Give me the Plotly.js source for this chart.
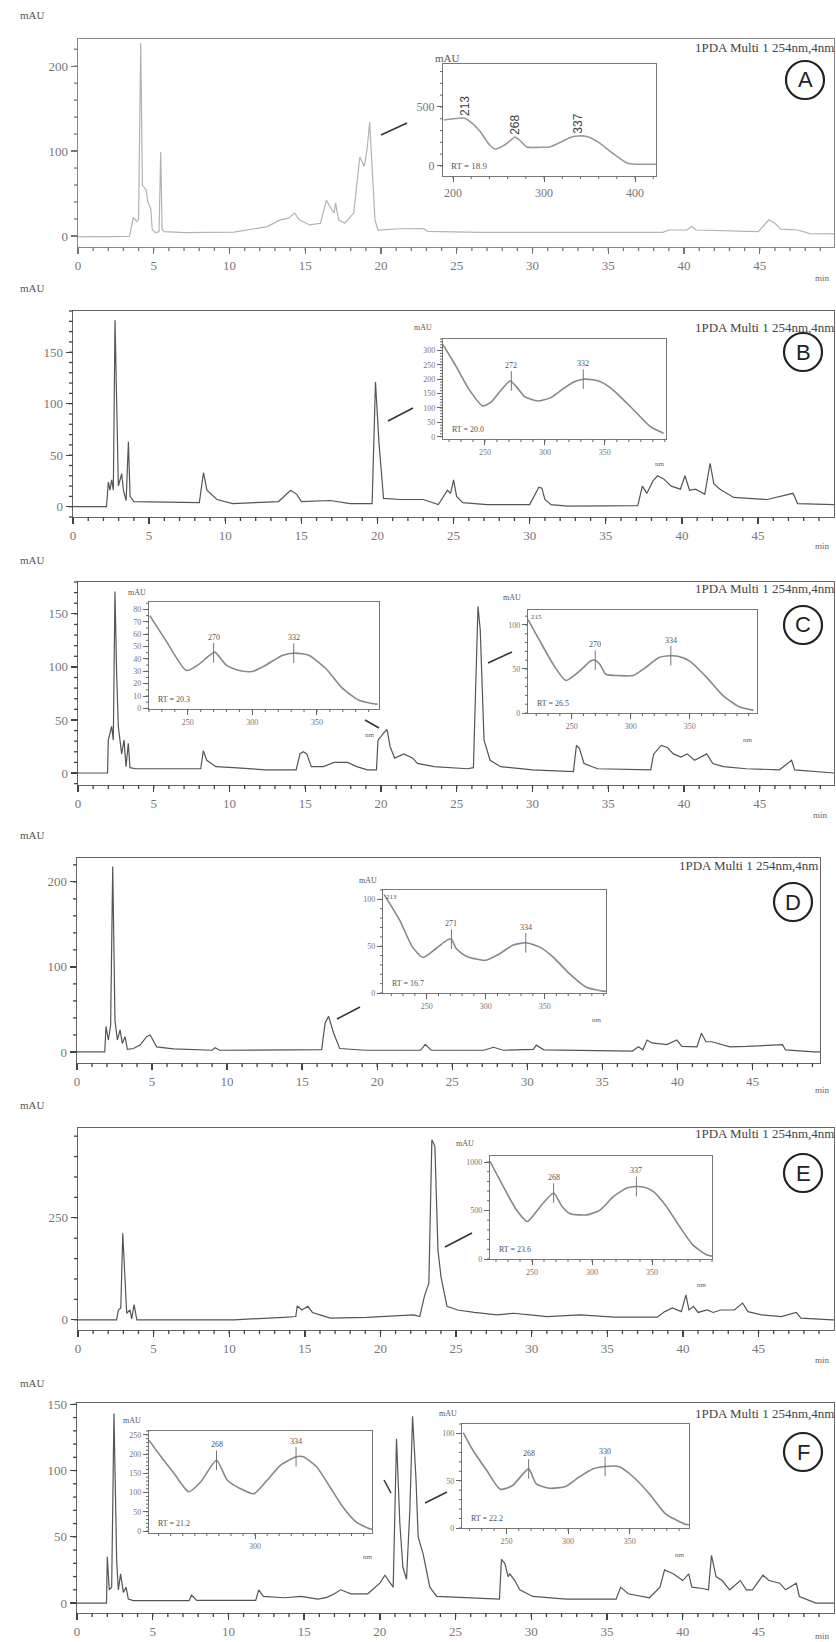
<!DOCTYPE html>
<html><head><meta charset="utf-8">
<script src="https://cdn.plot.ly/plotly-3.0.1.min.js"></script>
<style>html,body{margin:0;padding:0;background:#fff;}#chart{width:836px;height:1642px;}</style>
</head><body><div id="chart"></div>
<script>
// ---------- DATA ----------
const xTickVals = [0,5,10,15,20,25,30,35,40,45];
const xTickLabels = ['0','5','10','15','20','25','30','35','40','45'];
const panelLetters = ['A','B','C','D','E','F'];
const detectorLabel = '1PDA Multi 1 254nm,4nm';

// chromatograms: [time (min), absorbance (mAU)]
const chromA = [[0,-1],[3.4,-0.5],[3.65,22],[3.87,17],[4.0,20],[4.14,227],[4.25,60],[4.33,58],[4.5,54],[4.62,40],[4.72,36],[4.8,32],[4.9,8],[5.1,4],[5.35,5],[5.46,99],[5.55,8],[5.7,5],[7,4],[10.3,4.5],[12.5,11],[13.3,18.6],[13.9,21],[14.3,27],[14.6,19],[15.3,13],[16,15],[16.4,42],[16.65,34],[16.9,27],[17.0,39],[17.2,19],[17.6,15],[18.2,27],[18.6,93],[18.9,82],[19.1,105],[19.25,134],[19.4,85],[19.6,19],[19.8,7],[21.3,8.5],[22.8,8.6],[23.1,5.5],[26.5,4.3],[38.6,4.3],[39,7],[40.2,7],[40.5,11],[40.8,7],[44.9,5],[45.6,19],[46.0,15],[46.4,8],[47.5,7],[48.3,2.7],[49.9,2.5]];
const chromB = [[0,0],[2.2,0],[2.32,24],[2.43,16],[2.54,26],[2.65,16],[2.76,181],[2.87,78],[2.98,20],[3.2,32],[3.31,16],[3.49,6],[3.64,63],[3.75,10],[4.0,5],[8.3,4],[8.57,33],[8.8,16],[9.45,7],[10.5,3],[13.5,5],[14.3,16],[14.7,12],[15.0,5],[16.9,6],[18.2,3],[19.65,3],[19.87,121],[20.1,62],[20.4,8],[21.5,7],[23,7],[24.0,2],[24.6,16],[24.8,13],[25.0,26],[25.2,10],[25.6,4],[27.2,2],[30.0,2],[30.3,11],[30.6,19],[30.8,18],[31.0,7],[31.4,2],[32.5,0.5],[37.1,1],[37.4,20],[37.7,13],[38.1,25],[38.4,30],[38.8,27],[39.3,20],[39.9,17],[40.2,30],[40.5,16],[40.9,17],[41.5,12],[41.85,42],[42.1,22],[42.5,17],[43.4,9],[45.6,7],[47.3,13],[47.6,3],[49.9,2],[50.1,2]];
const chromC = [[0,0],[1.95,0],[2.0,31],[2.22,44],[2.33,31],[2.44,171],[2.55,94],[2.66,44],[2.88,18],[3.04,31],[3.17,6],[3.32,28],[3.43,5],[3.8,4],[8.1,4],[8.27,21],[8.5,12],[9.1,6],[10.25,5],[12.4,3],[14.4,3],[14.65,18],[14.87,20],[15.1,18],[15.4,6],[16.2,6],[16.9,10],[17.8,10],[18.4,6],[19.1,3],[19.7,3],[19.8,31],[20.2,38],[20.4,41],[20.6,25],[20.9,14],[21.5,18],[22.1,14],[22.4,9],[23.5,6],[25.7,4],[26.1,5],[26.4,157],[26.55,135],[26.8,31],[27.2,12],[27.9,6],[30.0,3],[32.7,1.4],[32.9,26],[33.1,23],[33.4,9],[34.3,4],[37.8,3],[38.0,18],[38.5,26],[38.9,24],[39.3,18],[39.8,15],[40.2,18],[40.7,12],[41.1,15],[41.5,18],[41.9,9],[42.6,6],[44.1,4],[46.3,3],[47.1,12],[47.3,3],[49.9,0]];
const chromD = [[0,0],[1.85,0],[1.93,30],[2.09,14],[2.24,31],[2.38,218],[2.53,37],[2.69,14],[2.87,26],[3.02,10],[3.2,18],[3.36,3],[3.76,4],[4.2,8],[4.64,18],[4.87,20],[5.31,6],[6.42,3.5],[9.0,2],[9.2,5],[9.5,2],[14.8,2.7],[16.3,2.7],[16.53,34],[16.76,42],[17.1,22],[17.5,4],[19.2,2],[22.9,2],[23.2,9],[23.6,2],[27.1,2],[27.75,5.5],[28.4,2],[30.4,3],[30.6,8],[31.1,2.5],[37.0,1],[37.4,6],[37.7,2.5],[37.98,14],[38.3,10.6],[39.3,8.6],[39.96,14],[40.3,6.5],[41.3,6],[41.6,22],[41.9,12],[42.3,12],[43.5,6],[44.6,6.5],[47.0,8.6],[47.2,2.5],[49.1,0],[49.5,0]];
const chromE = [[0,0],[2.55,0],[2.67,24],[2.83,29],[2.96,212],[3.11,73],[3.22,16],[3.44,24],[3.55,2],[3.71,37],[3.89,0],[5.9,0],[10.3,0],[13.6,6],[14.4,8],[14.5,34],[14.8,24],[15.2,33],[15.5,18],[16.0,12],[16.7,4],[19.1,6],[21.3,10],[22.2,12],[22.6,8],[22.9,57],[23.2,90],[23.4,441],[23.6,425],[23.8,172],[24.0,106],[24.4,33],[25.1,24],[26.2,18],[27.7,12],[28.8,16],[29.9,12],[31.0,8],[33.2,12],[35.5,6.5],[38.3,6.5],[38.8,20],[39.3,29],[39.9,20],[40.2,61],[40.4,24],[40.7,33],[41.0,18],[41.6,24],[42.0,18],[42.5,24],[43.4,24],[43.95,41],[44.3,20],[45.2,12],[46.5,8],[47.5,18],[47.8,4],[49.9,0],[50.1,0]];
const chromF = [[0,0],[1.95,0],[2.0,35],[2.13,10],[2.29,12],[2.44,143],[2.62,32],[2.73,10],[2.88,22],[3.06,8],[3.24,12],[3.39,3],[3.72,1.8],[7.4,1.8],[7.57,6],[7.9,2],[11.8,2],[12.0,10],[12.3,5],[13.7,4],[14.8,5],[15.9,3],[16.5,4.3],[17.0,7],[17.4,10],[18.1,7],[19.2,7],[20.0,15],[20.33,21],[20.66,16],[20.88,12],[21.1,124],[21.32,60],[21.52,27],[21.76,18],[21.98,70],[22.16,141],[22.38,95],[22.53,50],[22.86,37],[23.3,12],[23.75,5],[25.8,4],[27.9,3],[28.03,33],[28.25,30],[28.47,20],[28.58,22],[28.91,17],[29.24,10],[30.1,5],[32.3,3],[35.6,3],[35.9,12],[36.4,7],[37.8,4],[38.5,12],[38.8,25],[39.4,22],[40.0,17],[40.4,22],[40.6,12],[41.3,11],[41.7,10],[41.9,36],[42.2,20],[42.6,17],[43.1,10],[43.8,17],[44.2,10],[44.6,10],[45.3,21],[45.7,17],[46.4,15],[46.8,10],[47.5,15],[47.7,5],[48.8,0],[50,0]];

// UV spectra: [wavelength (nm), absorbance (mAU)]
const specA = [[190,390],[200,400],[210,407],[213,405],[220,370],[230,290],[240,180],[246,144],[255,170],[263,215],[268,246],[273,220],[281,161],[295,158],[306,161],[318,200],[328,240],[337,254],[347,250],[360,200],[375,110],[391,25],[400,15],[423,15]];
const specB = [[215,320],[226,244],[237,163],[248,107],[255,120],[263,160],[271,194],[277,170],[283,140],[294,124],[305,136],[316,169],[324,190],[332,200],[340,198],[346,192],[353,175],[360,151],[374,93],[388,35],[399,12]];
const specC1 = [[220.6,75],[233,55],[249,30.6],[259,36],[267,43],[271,45.5],[280,34.7],[290,30.6],[300,29.8],[310,34.7],[323,42.8],[333,44.7],[344,42.8],[357,32],[369,17],[382,6.8],[395,3.5],[397,3.5]];
const specC2 = [[213,106],[223,82],[234,56],[245,37],[257,48],[266,59],[270,60],[274,55],[279,44],[290,42.5],[302,42.5],[313,52],[324,63],[334,65],[340,64.5],[350,59],[364,41],[378,20],[392,7],[404,3]];
const specD = [[214,105],[227,78],[238,49],[247,38],[258,47.5],[268,57],[271,57.5],[275,47.5],[284,39],[300,35],[312,42],[323,51],[334,53.6],[346,49],[357,38.6],[371,20.7],[385,6.4],[399,2],[402,2]];
const specE = [[215,1007],[226,749],[237,507],[246,386],[257,542],[268,680],[275,542],[282,466],[296,455],[307,507],[318,645],[329,731],[337,748],[345,735],[351,697],[362,542],[373,335],[384,145],[396,41],[400,30]];
const specF1 = [[212,236],[222,193],[233,149],[245,102],[255,128],[268,184],[277,132],[288,110],[299,97],[310,132],[321,171],[334,193],[340,193],[351,167],[362,115],[373,62],[384,23],[395,6],[397,5]];
const specF2 = [[215,101],[223,82],[234,61],[245,41],[255,45],[268,62.5],[274,47],[285,42],[298,44],[309,54],[320,62.5],[330,65],[341,65],[352,55],[366,36],[379,15],[395,4],[398,3.5]];

// peak annotations: wavelength and absorbance at the marked maximum
const peaksA = [213,268,337],  peakAbsA = [405,246,254];
const peaksB = [272,332],      peakAbsB = [194,200];
const peaksC1 = [270,332],     peakAbsC1 = [45,44.7];
const peaksC2 = [270,334],     peakAbsC2 = [60,65];
const peaksD = [271,334],      peakAbsD = [57.5,53.6];
const peaksE = [268,337],      peakAbsE = [680,748];
const peaksF1 = [268,334],     peakAbsF1 = [184,193];
const peaksF2 = [268,330],     peakAbsF2 = [62.5,65];
const retentionLabels = ['RT = 18.9','RT = 20.0','RT = 20.3','RT = 26.5','RT = 16.7','RT = 23.6','RT = 21.2','RT = 22.2'];

// ---------- LAYOUT ----------
const W = 836, H = 1642;
const PX = p => p / W;
const PY = p => 1 - p / H;
const SERIF = 'Liberation Serif';

const panels = [
  {data:chromA, box:[78,39,834,247],   xr:[0,49.9],  yr:[-13,232],  ydt:100, ymn:20, color:'#b3b3b3', axc:'#8a8a8a', mtc:'#777', title:[836,47],   circle:[805,80],   mau:[32,15],   min:[822,278]},
  {data:chromB, box:[73,311,834,517],  xr:[0,49.99], yr:[-10,190],  ydt:50,  ymn:10, color:'#555', axc:'#666', mtc:'#444', title:[836,327],  circle:[803,352],  mau:[32,288],  min:[822,546]},
  {data:chromC, box:[78,582,834,785],  xr:[0,49.9],  yr:[-11.3,180],ydt:50,  ymn:10, color:'#555', axc:'#666', mtc:'#444', title:[836,588],  circle:[803,625],  mau:[32,560],  min:[820,815]},
  {data:chromD, box:[77,858,820,1063], xr:[0,49.5],  yr:[-13,228],  ydt:100, ymn:20, color:'#555', axc:'#666', mtc:'#444', title:[820,865],  circle:[793,902],  mau:[32,835],  min:[822,1090]},
  {data:chromE, box:[78,1128,834,1330],xr:[0,49.99], yr:[-25,470],  ydt:250, ymn:50, color:'#555', axc:'#666', mtc:'#444', title:[836,1133], circle:[803,1173], mau:[32,1105], min:[822,1360]},
  {data:chromF, box:[77,1403,834,1613],xr:[0,49.99], yr:[-7.5,151], ydt:50,  ymn:10, color:'#555', axc:'#666', mtc:'#444', title:[836,1413], circle:[803,1452], mau:[32,1383], min:[822,1636]}
];

const insets = [
  {data:specA,  peaks:peaksA,  pabs:peakAbsA,  box:[443,64,656,176],   xr:[189,423], yr:[-85,864], xt:[200,300,400], xmn:20, ydt:500, ymn:100, fs:12, rot:true,  mau:[447,58],   nm:null,       corner:null,  conn:[381,135,407,123], color:'#999'},
  {data:specB,  peaks:peaksB,  pabs:peakAbsB,  box:[443,339,666,439],  xr:[215,401], yr:[-8,340],  xt:[250,300,350], xmn:10, ydt:50,  ymn:10,  fs:8,  rot:false, mau:[423,327],  nm:[660,464],  corner:null,  conn:[388,421,413,408], color:'#888'},
  {data:specC1, peaks:peaksC1, pabs:peakAbsC1, box:[149,602,379,709],  xr:[220,398], yr:[-0.5,86], xt:[250,300,350], xmn:10, ydt:10,  ymn:5,   fs:8,  rot:false, mau:[137,592],  nm:[370,735],  corner:null,  conn:[365,720,379,728], color:'#888'},
  {data:specC2, peaks:peaksC2, pabs:peakAbsC2, box:[528,610,757,713],  xr:[213,407], yr:[0,117],   xt:[250,300,350], xmn:10, ydt:50,  ymn:10,  fs:8,  rot:false, mau:[512,598],  nm:[748,740],  corner:'215', conn:[488,663,512,652], color:'#888'},
  {data:specD,  peaks:peaksD,  pabs:peakAbsD,  box:[383,890,606,993],  xr:[213,402], yr:[0,110],   xt:[250,300,350], xmn:10, ydt:50,  ymn:10,  fs:8,  rot:false, mau:[368,880],  nm:[597,1020], corner:'213', conn:[337,1019,360,1007], color:'#888'},
  {data:specE,  peaks:peaksE,  pabs:peakAbsE,  box:[490,1156,712,1259],xr:[215,400], yr:[0,1062],  xt:[250,300,350], xmn:10, ydt:500, ymn:100, fs:8,  rot:false, mau:[465,1143], nm:[702,1285], corner:null,  conn:[445,1247,472,1233], color:'#888'},
  {data:specF1, peaks:peaksF1, pabs:peakAbsF1, box:[149,1431,372,1533],xr:[212,397], yr:[-5,260],  xt:[300],         xmn:10, ydt:50,  ymn:10,  fs:8,  rot:false, mau:[132,1420], nm:[368,1557], corner:null,  conn:[384,1480,391,1493], color:'#888'},
  {data:specF2, peaks:peaksF2, pabs:peakAbsF2, box:[462,1424,689,1528],xr:[214,398], yr:[0,110],   xt:[250,300,350], xmn:10, ydt:50,  ymn:10,  fs:8,  rot:false, mau:[448,1413], nm:[680,1555], corner:null,  conn:[425,1503,447,1492], color:'#888'}
];

// minor tick positions along a range (layout helper)
function minorVals(range, step) {
  const out = [];
  const start = Math.ceil(range[0] / step) * step;
  for (let v = start; v <= range[1] + 1e-9; v += step) out.push(Math.round(v * 1000) / 1000);
  return out;
}

const traces = [];
const layout = {
  width: W, height: H, margin: {l:0, r:0, t:0, b:0},
  paper_bgcolor: '#fff', plot_bgcolor: '#fff', showlegend: false,
  font: {family: SERIF, color: '#555'},
  annotations: [], shapes: []
};
const axName = (k, a) => k === 1 ? a : a + k;
const axKey = (k, a) => k === 1 ? a + 'axis' : a + 'axis' + k;

// short unlabeled minor tick marks along the bottom and left frame lines (axis decoration, paper space)
function addMinorTicks(box, xr, yr, xstep, ystep, len, color, width) {
  const [l, t, r, b] = box;
  const sx = v => l + (v - xr[0]) / (xr[1] - xr[0]) * (r - l);
  const sy = v => b - (v - yr[0]) / (yr[1] - yr[0]) * (b - t);
  minorVals(xr, xstep).forEach(v => layout.shapes.push({
    type:'line', xref:'paper', yref:'paper', x0:PX(sx(v)), x1:PX(sx(v)), y0:PY(b), y1:PY(b + len),
    line:{color:color, width:width}, layer:'above'}));
  minorVals(yr, ystep).forEach(v => layout.shapes.push({
    type:'line', xref:'paper', yref:'paper', x0:PX(l), x1:PX(l - len), y0:PY(sy(v)), y1:PY(sy(v)),
    line:{color:color, width:width}, layer:'above'}));
}

panels.forEach((p, i) => {
  const k = i + 1;
  const [l, t, r, b] = p.box;
  layout[axKey(k,'x')] = {
    domain: [PX(l), PX(r)], range: p.xr, anchor: axName(k,'y'),
    showline: true, linecolor: p.axc, linewidth: 1.3, mirror: true,
    ticks: 'outside', ticklen: 6, tickwidth: 1.3, tickcolor: p.mtc,
    tickmode: 'array', tickvals: xTickVals, ticktext: xTickLabels,
    showgrid: false, zeroline: false,
    tickfont: {family: SERIF, size: 13, color: '#777'}
  };
  layout[axKey(k,'y')] = {
    domain: [PY(b), PY(t)], range: p.yr, anchor: axName(k,'x'),
    showline: true, linecolor: p.axc, linewidth: 1.3, mirror: true,
    ticks: 'outside', ticklen: 6, tickwidth: 1.3, tickcolor: p.mtc,
    tickmode: 'linear', tick0: 0, dtick: p.ydt,
    showgrid: false, zeroline: false,
    tickfont: {family: SERIF, size: 13, color: '#777'}
  };
  traces.push({
    type: 'scatter', mode: 'lines',
    x: p.data.map(d => d[0]), y: p.data.map(d => d[1]),
    xaxis: axName(k,'x'), yaxis: axName(k,'y'),
    line: {color: p.color, width: 1.2}, hoverinfo: 'skip'
  });
  addMinorTicks(p.box, p.xr, p.yr, 1, p.ymn, 4, p.mtc, 1.3);
  const A = layout.annotations;
  A.push({xref:'paper', yref:'paper', x:PX(p.title[0]), y:PY(p.title[1]), xanchor:'right', yanchor:'middle',
          text: detectorLabel, showarrow:false, font:{family:SERIF, size:13, color:'#444'}});
  A.push({xref:'paper', yref:'paper', x:PX(p.circle[0]), y:PY(p.circle[1]), xanchor:'center', yanchor:'middle',
          text: panelLetters[i], showarrow:false, font:{family:'Liberation Sans', size:22, color:'#222'}});
  A.push({xref:'paper', yref:'paper', x:PX(p.mau[0]), y:PY(p.mau[1]), xanchor:'center', yanchor:'middle',
          text:'mAU', showarrow:false, font:{family:SERIF, size:11, color:'#555'}});
  A.push({xref:'paper', yref:'paper', x:PX(p.min[0]), y:PY(p.min[1]), xanchor:'center', yanchor:'middle',
          text:'min', showarrow:false, font:{family:SERIF, size:9, color:'#666'}});
  const R = 19;
  layout.shapes.push({type:'circle', xref:'paper', yref:'paper',
    x0:PX(p.circle[0]-R), x1:PX(p.circle[0]+R), y0:PY(p.circle[1]+R), y1:PY(p.circle[1]-R),
    line:{color:'#222', width:2.2}});
});

insets.forEach((s, j) => {
  const k = 7 + j;
  const [l, t, r, b] = s.box;
  const xa = axName(k,'x'), ya = axName(k,'y');
  layout[axKey(k,'x')] = {
    domain: [PX(l), PX(r)], range: s.xr, anchor: ya,
    showline: true, linecolor: '#777', linewidth: 1.2, mirror: true,
    ticks: 'outside', ticklen: 5, tickwidth: 1, tickcolor: '#666',
    tickmode: 'array', tickvals: s.xt, ticktext: s.xt.map(String),
    showgrid: false, zeroline: false,
    tickfont: {family: SERIF, size: s.fs, color: '#777'}
  };
  layout[axKey(k,'y')] = {
    domain: [PY(b), PY(t)], range: s.yr, anchor: xa,
    showline: true, linecolor: '#777', linewidth: 1.2, mirror: true,
    ticks: 'outside', ticklen: 5, tickwidth: 1, tickcolor: '#666',
    tickmode: 'linear', tick0: 0, dtick: s.ydt,
    showgrid: false, zeroline: false,
    tickfont: {family: SERIF, size: s.fs, color: '#777'}
  };
  traces.push({
    type: 'scatter', mode: 'lines',
    x: s.data.map(d => d[0]), y: s.data.map(d => d[1]),
    xaxis: xa, yaxis: ya, line: {color: s.color, width: 1.6, shape: 'spline', smoothing: 0.6},
    hoverinfo: 'skip'
  });
  addMinorTicks(s.box, s.xr, s.yr, s.xmn, s.ymn, 3, '#666', 1);
  if (!s.rot) {
    traces.push({
      type: 'scatter', mode: 'markers', x: s.peaks, y: s.pabs, xaxis: xa, yaxis: ya,
      marker: {symbol: 'line-ns-open', size: 14, color: '#777', line: {color: '#777', width: 1}}, hoverinfo: 'skip'
    });
  }
  const A = layout.annotations;
  s.peaks.forEach((pk, n) => {
    if (s.rot) {
      A.push({xref:xa, yref:ya, x:pk, y:s.pabs[n], xanchor:'center', yanchor:'middle', yshift:12, textangle:-90,
              text:String(pk), showarrow:false, font:{family:'Liberation Sans', size:12, color:'#444'}});
    } else {
      A.push({xref:xa, yref:ya, x:pk, y:s.pabs[n], xanchor:'center', yanchor:'bottom', yshift:9,
              text:String(pk), showarrow:false, font:{family:SERIF, size:8, color:'#555'}});
    }
  });
  A.push({xref:xa + ' domain', yref:ya + ' domain', x:0.03, y:0.03, xanchor:'left', yanchor:'bottom',
          text: retentionLabels[j], showarrow:false, font:{family:SERIF, size: s.rot ? 9 : 8, color:'#555'}});
  A.push({xref:'paper', yref:'paper', x:PX(s.mau[0]), y:PY(s.mau[1]), xanchor:'center', yanchor:'middle',
          text:'mAU', showarrow:false, font:{family:SERIF, size: s.rot ? 11 : 8, color:'#555'}});
  if (s.nm) A.push({xref:'paper', yref:'paper', x:PX(s.nm[0]), y:PY(s.nm[1]), xanchor:'center', yanchor:'middle',
          text:'nm', showarrow:false, font:{family:SERIF, size:7, color:'#666'}});
  if (s.corner) A.push({xref:xa + ' domain', yref:ya + ' domain', x:0.005, y:0.99, xanchor:'left', yanchor:'top',
          text:s.corner, showarrow:false, font:{family:SERIF, size:7, color:'#555'}});
  const c = s.conn;
  layout.shapes.push({type:'line', xref:'paper', yref:'paper', x0:PX(c[0]), y0:PY(c[1]), x1:PX(c[2]), y1:PY(c[3]),
                      line:{color:'#333', width:1.5}});
});

Plotly.newPlot('chart', traces, layout, {staticPlot: true, displayModeBar: false});
</script>
</body></html>
